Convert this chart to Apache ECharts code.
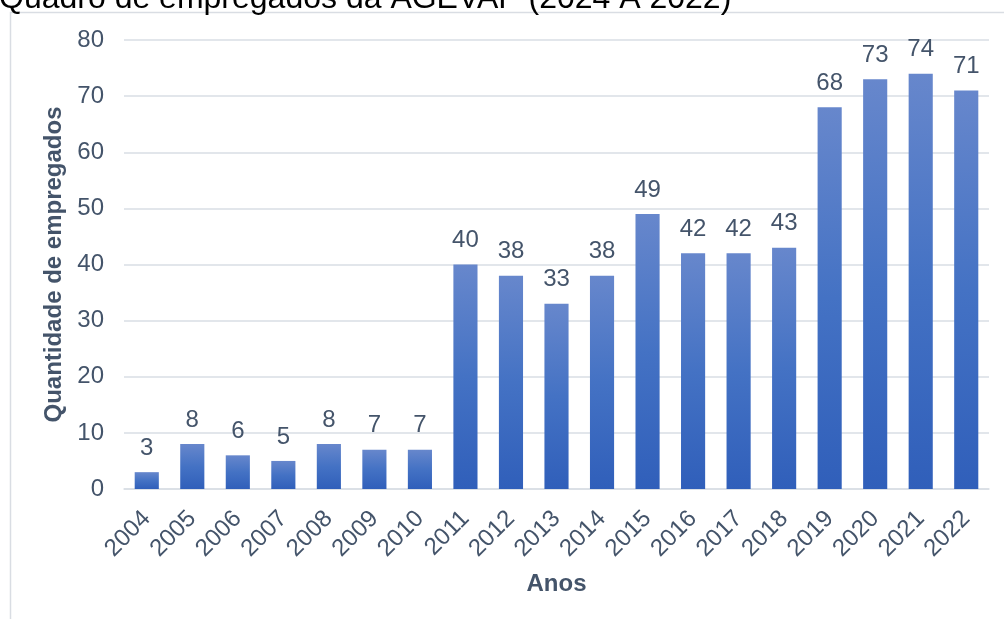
<!DOCTYPE html>
<html><head><meta charset="utf-8">
<script src="https://cdn.jsdelivr.net/npm/echarts@6/dist/echarts.min.js"></script>
<style>html,body{margin:0;padding:0;background:#fff}#c{width:1004px;height:619px}</style>
</head><body><div id="c"></div>
<script>
const titleText = 'Quadro de empregados da AGEVAP (2024 A 2022)';
const years = ['2004','2005','2006','2007','2008','2009','2010','2011','2012','2013','2014','2015','2016','2017','2018','2019','2020','2021','2022'];
const employees = [3,8,6,5,8,7,7,40,38,33,38,49,42,42,43,68,73,74,71];
const yAxisName = 'Quantidade de empregados';
const xAxisName = 'Anos';

const txt = '#44546a';
const chart = echarts.init(document.getElementById('c'), null, {renderer:'canvas'});
chart.setOption({
  animation: false,
  backgroundColor: '#fff',
  graphic: [
    {type:'rect', left:8, top:10, shape:{width:1010, height:620}, style:{fill:'none', stroke:'#d9dde3', lineWidth:1.5}, silent:true, z:-1},
    {type:'text', x:-1, y:-1, style:{text:titleText, fontFamily:'Liberation Sans, Arial, sans-serif', fontSize:32, fill:'#000', verticalAlign:'middle', align:'left'}}
  ],
  grid: {left:124, right:15, top:40, bottom:130},
  xAxis: {
    type:'category', data: years,
    name: xAxisName, nameLocation:'middle', nameGap:83,
    nameTextStyle:{fontFamily:'Liberation Sans, Arial', fontSize:24, fontWeight:'bold', color:txt},
    axisLine:{show:true, lineStyle:{color:'#d9dee5', width:1.5}},
    axisTick:{show:false},
    axisLabel:{rotate:45, margin:26, fontFamily:'Liberation Sans, Arial', fontSize:24, color:txt, interval:0}
  },
  yAxis: {
    type:'value', min:0, max:80, interval:10,
    name: yAxisName, nameLocation:'middle', nameGap:54, nameRotate:90,
    nameTextStyle:{fontFamily:'Liberation Sans, Arial', fontSize:24, fontWeight:'bold', color:txt},
    axisLine:{show:false}, axisTick:{show:false},
    axisLabel:{margin:20, fontFamily:'Liberation Sans, Arial', fontSize:24, color:txt},
    splitLine:{lineStyle:{color:'#d9dee5', width:1.5}}
  },
  series: [{
    type:'bar', data: employees, barCategoryGap:'47%',
    itemStyle:{color:new echarts.graphic.LinearGradient(0,0,0,1,[
      {offset:0, color:'#6787cc'},{offset:0.5, color:'#4472c4'},{offset:1, color:'#305fba'}])},
    label:{show:true, position:'top', distance:12, fontFamily:'Liberation Sans, Arial', fontSize:24, color:txt}
  }]
});
</script></body></html>
